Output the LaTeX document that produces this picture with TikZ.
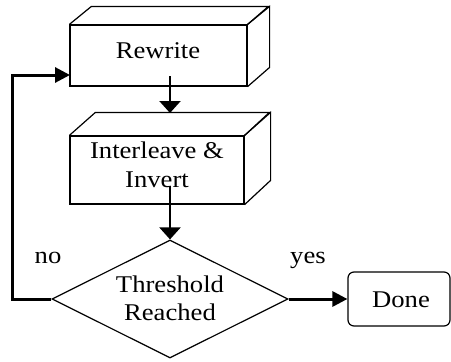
\documentclass[tikz,border=0pt]{standalone}
\usepackage{fontspec}
\setmainfont{Liberation Serif}[FakeStretch=1.11]
\usetikzlibrary{arrows.meta,shapes.geometric}
\tikzset{
  face/.style={draw, line width=1.2pt, fill=white, inner sep=0pt, align=center},
  side/.style={draw, line width=1.2pt, line join=miter},
  txt/.style={inner sep=0pt, align=center},
  conn/.style={line width=2.2pt, -{Triangle[width=21pt,length=12pt]}},
  fbconn/.style={line width=3pt, -{Triangle[width=15pt,length=15pt]}},
  lbl/.style={inner sep=0pt}
}
\begin{document}
\begin{tikzpicture}[x=1pt,y=-1pt,font=\fontsize{24}{29}\selectfont]
\useasboundingbox (0,0) rectangle (451,362);
% Rewrite box
\node[face, minimum width=177pt, minimum height=61pt] (rw) at (158.5,55.5) {};
\draw[side] (rw.north west) -- ++(22,-18) -- ++(177,0) -- (rw.north east);
\draw[side] (rw.north east) -- ++(22,-18) -- ++(0,61) -- (rw.south east);
\node[txt, anchor=base] (rwtext) at (158,58) {Rewrite};
% Interleave box
\node[face, minimum width=174pt, minimum height=68pt] (il) at (157,170) {};
\draw[side] (il.north west) -- ++(26,-23) -- ++(174,0) -- (il.north east);
\draw[side] (il.north east) -- ++(26,-23) -- ++(0,68) -- (il.south east);
\node[txt, anchor=base] (iltext1) at (157,158) {Interleave \&};
\node[txt, anchor=base] (iltext2) at (157,187) {Invert};
% Decision
\node[face, shape=diamond, minimum width=236pt, minimum height=118pt] (dia) at (170,299) {};
\node[txt, anchor=base] (diatext1) at (170,292) {Threshold};
\node[txt, anchor=base] (diatext2) at (170,320) {Reached};
% Done
\node[face, rounded corners=6pt, minimum width=102pt, minimum height=54pt] (done) at (399,299) {};
\node[txt, anchor=base] (donetext) at (401,307) {Done};
% coordinates
\coordinate (rwout) at (170,76);
\coordinate (iltop) at (170,113);
\coordinate (ilout) at (170,186);
\coordinate (fbcorner1) at (12,299);
\coordinate (fbcorner2) at (12,75);
\coordinate (fbin) at (70,75);
% connectors
\draw[conn] (rwout) -- (iltop);
\draw[conn] (ilout) -- (dia.north);
\draw[fbconn] (dia.west) -- (fbcorner1) -- (fbcorner2) -- (fbin);
\draw[fbconn] (dia.east) -- (done.west);
% labels
\node[lbl, anchor=base] (no) at (48,263) {no};
\node[lbl, anchor=base] (yes) at (308,263) {yes};
\end{tikzpicture}
\end{document}
